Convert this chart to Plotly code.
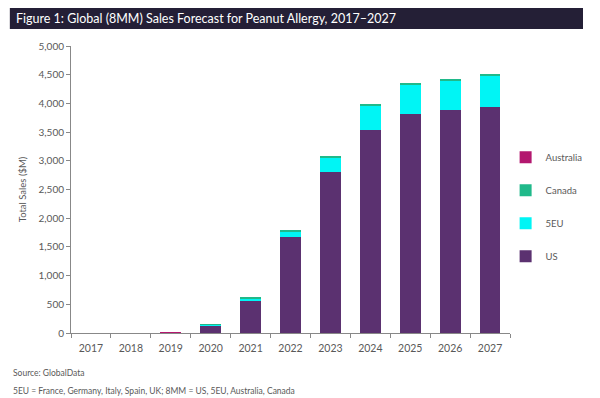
import plotly.graph_objects as go

years = ["2017", "2018", "2019", "2020", "2021", "2022", "2023", "2024", "2025", "2026", "2027"]
us = [0, 0, 12, 138, 560, 1680, 2800, 3540, 3820, 3880, 3940]
eu5 = [0, 0, 0, 3, 45, 95, 255, 420, 505, 520, 530]
canada = [0, 0, 0, 1, 15, 25, 28, 30, 30, 30, 35]
australia = [0, 0, 4, 0, 0, 0, 0, 0, 0, 0, 0]

series = [
    ("US", us, "#5b3170", 4),
    ("5EU", eu5, "#00f5f5", 3),
    ("Canada", canada, "#20b98a", 2),
    ("Australia", australia, "#b3176f", 1),
]

fig = go.Figure()
for name, vals, col, rank in series:
    fig.add_trace(go.Bar(x=years, y=vals, name=name, marker_color=col,
                         marker_line_width=0, legendgroup=name, legendrank=rank))

font_fam = "Lato, 'Open Sans', sans-serif"
fig.update_layout(
    width=600, height=398,
    barmode="stack", bargap=0.48,
    plot_bgcolor="white", paper_bgcolor="white",
    margin=dict(l=71, r=84, t=46, b=65),
    font=dict(family=font_fam, size=10, color="#595959"),
    showlegend=True,
    legend=dict(x=0.99, xanchor="left", y=0.44, yanchor="middle",
                traceorder="grouped", tracegroupgap=14,
                font=dict(size=9.5, color="#595959"),
                itemwidth=30, bgcolor="rgba(0,0,0,0)"),
    xaxis=dict(type="category", showline=True, linecolor="#888888", linewidth=1,
               ticks="outside", tickson="boundaries", ticklen=4, tickcolor="#888888",
               ticklabelstandoff=5,
               showgrid=False, tickfont=dict(size=10.5, color="#595959")),
    yaxis=dict(range=[0, 5000], dtick=500, tickformat=",d", showline=True,
               linecolor="#888888", linewidth=1, ticks="outside", ticklen=4,
               tickcolor="#888888", showgrid=False, zeroline=False,
               title=dict(text="Total Sales ($M)", font=dict(size=9.5, color="#595959"), standoff=10),
               tickfont=dict(size=10, color="#595959")),
)

# title bar via pixel offsets relative to the plot area (x 71..516, y 46..333)
fig.add_shape(type="rect", xref="paper", yref="paper",
              x0=(9 - 71) / 445, x1=(590 - 71) / 445,
              y0=(333 - 29) / 287, y1=(333 - 8) / 287,
              fillcolor="#241f36", line_width=0)
fig.add_annotation(text="Figure 1: Global (8MM) Sales Forecast for Peanut Allergy, 2017–2027",
                   xref="paper", yref="paper", x=(13 - 71) / 445, y=(333 - 18.5) / 287,
                   xanchor="left", yanchor="middle", showarrow=False,
                   font=dict(family=font_fam, size=12.5, color="white"))
fig.add_annotation(text="Source: GlobalData", xref="paper", yref="paper",
                   x=(10 - 71) / 445, y=(333 - 373) / 287, xanchor="left", yanchor="middle",
                   showarrow=False, font=dict(family=font_fam, size=8.5, color="#595959"))
fig.add_annotation(text="5EU = France, Germany, Italy, Spain, UK; 8MM = US, 5EU, Australia, Canada",
                   xref="paper", yref="paper",
                   x=(10 - 71) / 445, y=(333 - 391) / 287, xanchor="left", yanchor="middle",
                   showarrow=False, font=dict(family=font_fam, size=8.5, color="#595959"))

fig.write_html("out.html", config={"displayModeBar": False},
               post_script="document.body.style.margin='0';")
